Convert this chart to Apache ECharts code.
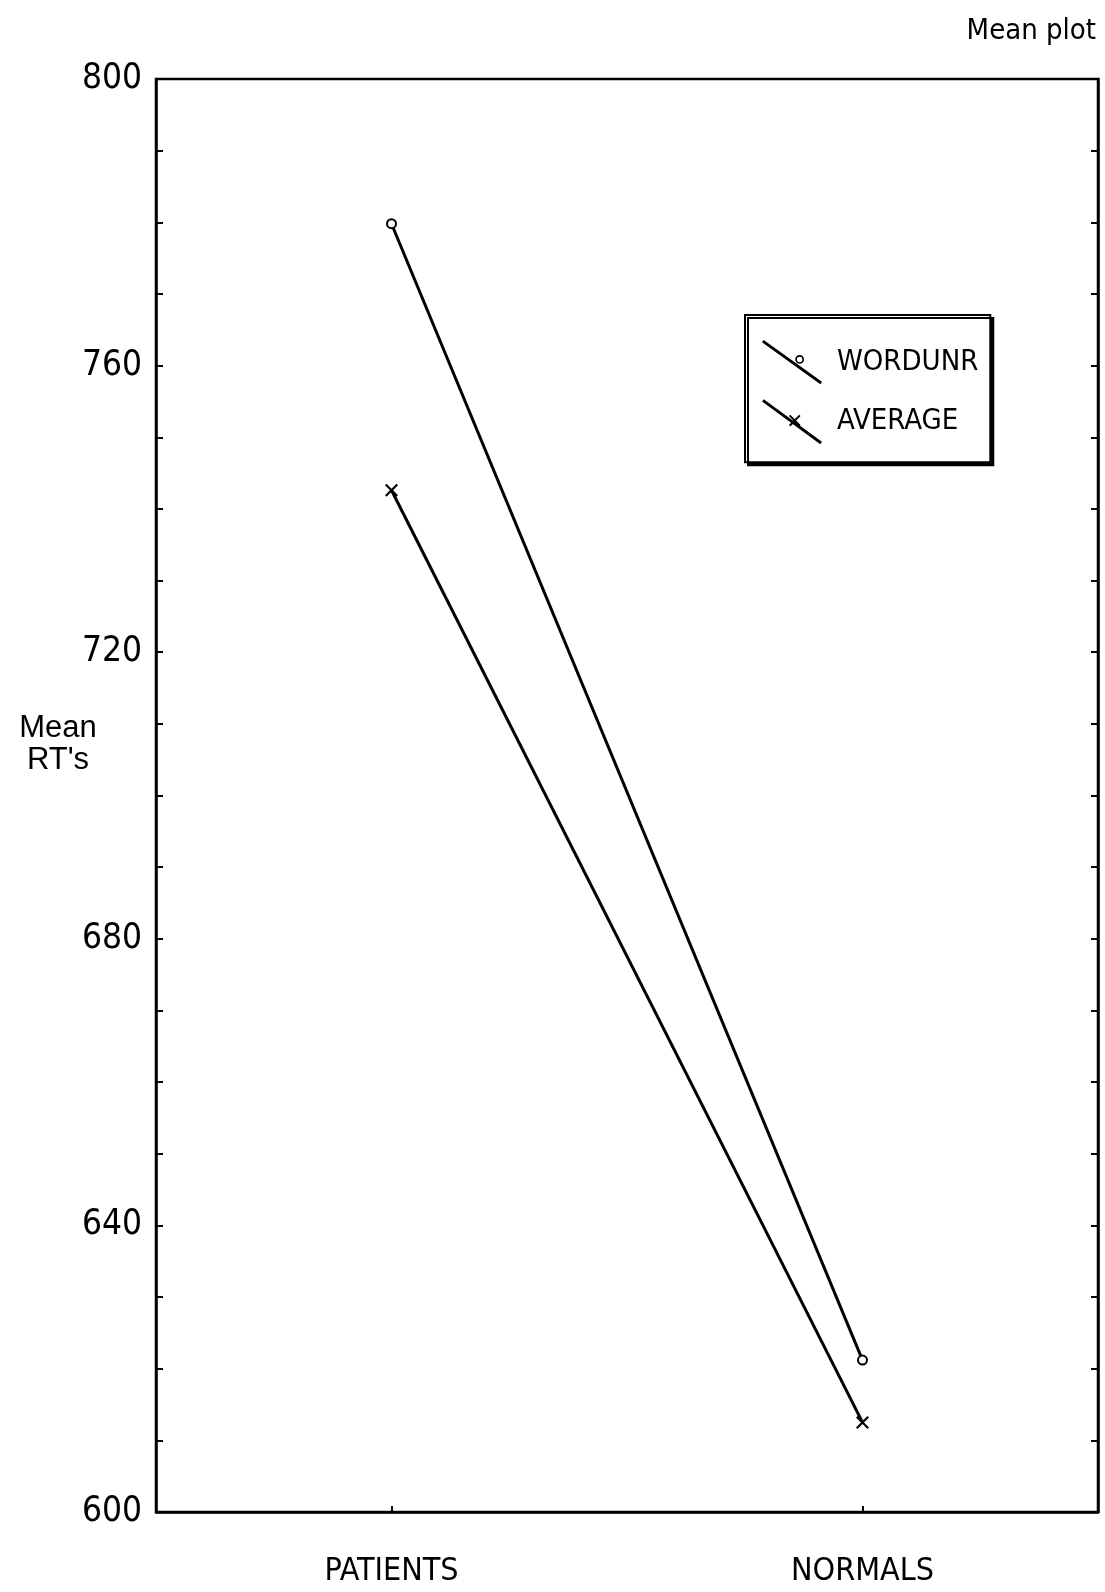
<!DOCTYPE html>
<html>
<head>
<meta charset="utf-8">
<script src="https://cdn.jsdelivr.net/npm/echarts@6/dist/echarts.min.js"></script>
<style>
html,body{margin:0;padding:0;background:#fff;}
#chart{width:1105px;height:1592px;}
</style>
</head>
<body>
<div id="chart"></div>
<script>
const categories = ['PATIENTS', 'NORMALS'];
const wordunr = [779.8, 621.2];
const average = [742.6, 612.5];
const seriesNames = ['WORDUNR', 'AVERAGE'];
const yMin = 600, yMax = 800, yTickStep = 10, yLabelStep = 40;

const NARROW = '"Liberation Sans Narrow", "DejaVu Sans Condensed", "Liberation Sans", sans-serif';

const circleIcon = 'path://M0,0 L60,43 L58.3,45.4 L-1.7,2.4 Z ' +
  'M41.5,20 A4.5,4.5 0 1,0 32.5,20 A4.5,4.5 0 1,0 41.5,20 Z ' +
  'M39.8,20 A2.8,2.8 0 1,1 34.2,20 A2.8,2.8 0 1,1 39.8,20 Z';
const crossIcon = 'path://M0,0 L60,44 L58.3,46.4 L-1.7,2.4 Z ' +
  'M26,17.5 L27.4,16.1 L38,26.7 L36.6,28.1 Z M36.6,16.1 L38,17.5 L27.4,28.1 L26,26.7 Z';
const crossSymbol = 'path://M0,1.2 L1.2,0 L5,3.8 L8.8,0 L10,1.2 L6.2,5 L10,8.8 L8.8,10 L5,6.2 L1.2,10 L0,8.8 L3.8,5 Z';

const chart = echarts.init(document.getElementById('chart'), null, {renderer: 'canvas'});

const yAxisBase = {
  type: 'value',
  min: yMin,
  max: yMax,
  interval: yTickStep,
  splitLine: {show: false},
  axisLine: {show: true, lineStyle: {color: '#000', width: 2.5}},
  axisTick: {show: true, inside: true, length: 7, lineStyle: {color: '#000', width: 2}}
};

chart.setOption({
  backgroundColor: '#fff',
  animation: false,
  title: [
    {
      text: 'Mean plot',
      right: 4,
      top: 12,
      textStyle: {fontFamily: NARROW, fontSize: 29, fontWeight: 'normal', color: '#000'}
    },
    {
      text: "Mean\nRT's",
      left: 53,
      top: 707,
      textAlign: 'center',
      textStyle: {
        fontFamily: '"Liberation Sans", Arial, sans-serif',
        fontSize: 31,
        fontWeight: 'normal',
        color: '#000',
        lineHeight: 32
      }
    }
  ],
  grid: {
    left: 156,
    right: 7,
    top: 79,
    bottom: 80,
    show: true,
    borderColor: '#000',
    borderWidth: 2.5,
    backgroundColor: 'transparent'
  },
  legend: {
    data: [
      {name: seriesNames[0], icon: circleIcon},
      {name: seriesNames[1], icon: crossIcon}
    ],
    orient: 'vertical',
    left: 745,
    top: 315,
    padding: [25, 12, 18, 17],
    itemGap: 15,
    itemWidth: 60,
    itemHeight: 45,
    borderColor: '#000',
    borderWidth: 2,
    backgroundColor: '#fff',
    shadowColor: '#000',
    shadowBlur: 0,
    shadowOffsetX: 3,
    shadowOffsetY: 3,
    itemStyle: {color: '#000', borderWidth: 0},
    textStyle: {fontFamily: NARROW, fontSize: 29, color: '#000', padding: [0, 0, 0, 10]},
    selectedMode: false
  },
  xAxis: {
    type: 'category',
    data: categories,
    boundaryGap: true,
    axisLine: {show: true, lineStyle: {color: '#000', width: 2.5}},
    axisTick: {show: true, inside: true, alignWithLabel: true, length: 6, lineStyle: {color: '#000', width: 2}},
    axisLabel: {margin: 44, fontFamily: NARROW, fontSize: 32, color: '#000'},
    splitLine: {show: false}
  },
  yAxis: [
    Object.assign({}, yAxisBase, {
      position: 'left',
      axisLabel: {
        margin: 14,
        fontFamily: NARROW,
        fontSize: 35,
        color: '#000',
        formatter: function (v) { return v % yLabelStep === 0 ? String(v) : ''; }
      }
    }),
    Object.assign({}, yAxisBase, {
      position: 'right',
      axisLabel: {show: false}
    })
  ],
  series: [
    {
      name: seriesNames[0],
      type: 'line',
      data: wordunr,
      symbol: 'emptyCircle',
      symbolSize: 9,
      lineStyle: {color: '#000', width: 3},
      itemStyle: {color: '#000', borderColor: '#000', borderWidth: 2}
    },
    {
      name: seriesNames[1],
      type: 'line',
      data: average,
      symbol: crossSymbol,
      symbolSize: 13,
      lineStyle: {color: '#000', width: 3},
      itemStyle: {color: '#000', borderWidth: 0}
    }
  ]
});
</script>
</body>
</html>
